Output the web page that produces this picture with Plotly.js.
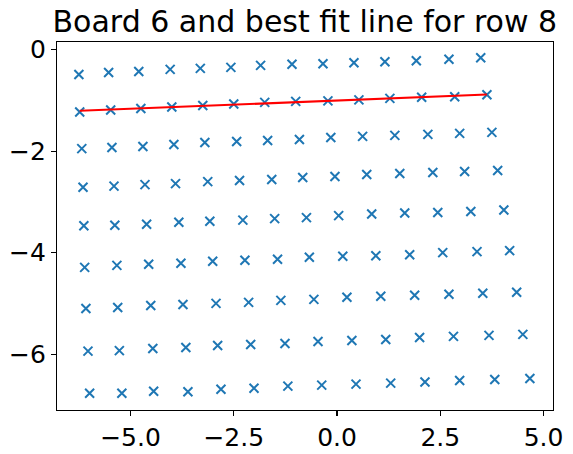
<!DOCTYPE html>
<html>
<head>
<meta charset="utf-8">
<script src="https://cdn.plot.ly/plotly-3.0.1.min.js"></script>
<style>html,body{margin:0;padding:0;background:#fff;}#chart{width:573px;height:454px;}</style>
</head>
<body>
<div id="chart"></div>
<script>
// Board 6 points, rows numbered from the bottom (row1) to the top (row9)
const row9x = [-6.25, -5.53, -4.80, -4.04, -3.31, -2.57, -1.85, -1.09, -0.34, 0.41, 1.16, 1.92, 2.71, 3.48];
const row9y = [-0.49, -0.45, -0.43, -0.39, -0.37, -0.35, -0.31, -0.29, -0.28, -0.26, -0.24, -0.22, -0.19, -0.16];
const row8x = [-6.23, -5.48, -4.75, -4.00, -3.25, -2.50, -1.75, -1.00, -0.22, 0.53, 1.28, 2.05, 2.85, 3.63];
const row8y = [-1.23, -1.19, -1.16, -1.13, -1.10, -1.07, -1.04, -1.02, -1.01, -0.99, -0.96, -0.94, -0.93, -0.89];
const row7x = [-6.18, -5.45, -4.70, -3.95, -3.20, -2.43, -1.68, -0.91, -0.15, 0.62, 1.40, 2.20, 2.97, 3.75];
const row7y = [-1.95, -1.93, -1.91, -1.87, -1.83, -1.81, -1.79, -1.77, -1.73, -1.71, -1.69, -1.67, -1.65, -1.63];
const row6x = [-6.15, -5.40, -4.65, -3.91, -3.13, -2.36, -1.58, -0.83, -0.05, 0.72, 1.52, 2.32, 3.09, 3.89];
const row6y = [-2.71, -2.69, -2.66, -2.64, -2.60, -2.58, -2.56, -2.52, -2.50, -2.46, -2.44, -2.42, -2.40, -2.38];
const row5x = [-6.13, -5.38, -4.61, -3.83, -3.08, -2.28, -1.51, -0.74, 0.04, 0.84, 1.64, 2.44, 3.24, 4.04];
const row5y = [-3.47, -3.46, -3.44, -3.40, -3.38, -3.36, -3.33, -3.31, -3.27, -3.24, -3.22, -3.21, -3.19, -3.16];
const row4x = [-6.11, -5.33, -4.56, -3.78, -3.01, -2.23, -1.44, -0.67, 0.14, 0.94, 1.76, 2.56, 3.39, 4.18];
const row4y = [-4.29, -4.25, -4.23, -4.21, -4.17, -4.15, -4.13, -4.09, -4.07, -4.06, -4.04, -4.00, -3.98, -3.96];
const row3x = [-6.08, -5.31, -4.51, -3.73, -2.93, -2.14, -1.36, -0.56, 0.24, 1.06, 1.88, 2.71, 3.53, 4.35];
const row3y = [-5.10, -5.08, -5.04, -5.02, -5.00, -4.98, -4.94, -4.92, -4.88, -4.86, -4.84, -4.82, -4.80, -4.78];
const row2x = [-6.03, -5.27, -4.46, -3.66, -2.89, -2.09, -1.26, -0.46, 0.36, 1.18, 2.00, 2.82, 3.68, 4.50];
const row2y = [-5.94, -5.93, -5.89, -5.87, -5.83, -5.81, -5.79, -5.75, -5.73, -5.71, -5.67, -5.65, -5.63, -5.61];
const row1x = [-5.99, -5.21, -4.44, -3.61, -2.81, -2.01, -1.19, -0.37, 0.46, 1.30, 2.13, 2.97, 3.82, 4.67];
const row1y = [-6.77, -6.77, -6.73, -6.74, -6.69, -6.67, -6.63, -6.61, -6.59, -6.57, -6.55, -6.52, -6.50, -6.48];

const xTickVals = [-5, -2.5, 0, 2.5, 5];
const yTickVals = [-6, -4, -2, 0];

const allX = [].concat(row9x, row8x, row7x, row6x, row5x, row4x, row3x, row2x, row1x);
const allY = [].concat(row9y, row8y, row7y, row6y, row5y, row4y, row3y, row2y, row1y);

// least-squares best fit line for row 8
function fit(xs, ys) {
  const n = xs.length;
  const mx = xs.reduce((a, b) => a + b, 0) / n;
  const my = ys.reduce((a, b) => a + b, 0) / n;
  let sxy = 0, sxx = 0;
  for (let i = 0; i < n; i++) { sxy += (xs[i] - mx) * (ys[i] - my); sxx += (xs[i] - mx) ** 2; }
  const m = sxy / sxx;
  return { m: m, b: my - m * mx };
}
const f = fit(row8x, row8y);
const lineX = [Math.min(...row8x), Math.max(...row8x)];
const lineY = lineX.map(x => f.m * x + f.b);

const font = "DejaVu Sans, sans-serif";
const traces = [
  { x: allX, y: allY, type: 'scatter', mode: 'markers',
    marker: { symbol: 'x-thin-open', size: 9, color: '#1f77b4', line: { width: 2, color: '#1f77b4' } },
    hoverinfo: 'skip', showlegend: false },
  { x: lineX, y: lineY, type: 'scatter', mode: 'lines',
    line: { color: 'red', width: 2.1 }, hoverinfo: 'skip', showlegend: false }
];

const axisCommon = {
  showgrid: false, zeroline: false, showline: true, mirror: true,
  linecolor: '#000', linewidth: 1.1, ticks: 'outside', ticklen: 5, tickwidth: 1.1, tickcolor: '#000',
  tickfont: { family: font, size: 25, color: '#000' }
};

const layout = {
  width: 573, height: 454,
  margin: { l: 57, r: 20, t: 42, b: 44, pad: 0 },
  paper_bgcolor: '#fff', plot_bgcolor: '#fff',
  title: { text: 'Board 6 and best fit line for row 8', font: { family: font, size: 30, color: '#000' },
           x: 0.532, xanchor: 'center', y: 0.953, yanchor: 'middle' },
  xaxis: Object.assign({}, axisCommon, { range: [-6.78, 5.23], tickvals: xTickVals, tickformat: '.1f' }),
  yaxis: Object.assign({}, axisCommon, { range: [-7.10, 0.15], tickvals: yTickVals, tickformat: 'd' }),
  showlegend: false
};

Plotly.newPlot('chart', traces, layout, { staticPlot: true, displayModeBar: false });
</script>
</body>
</html>
